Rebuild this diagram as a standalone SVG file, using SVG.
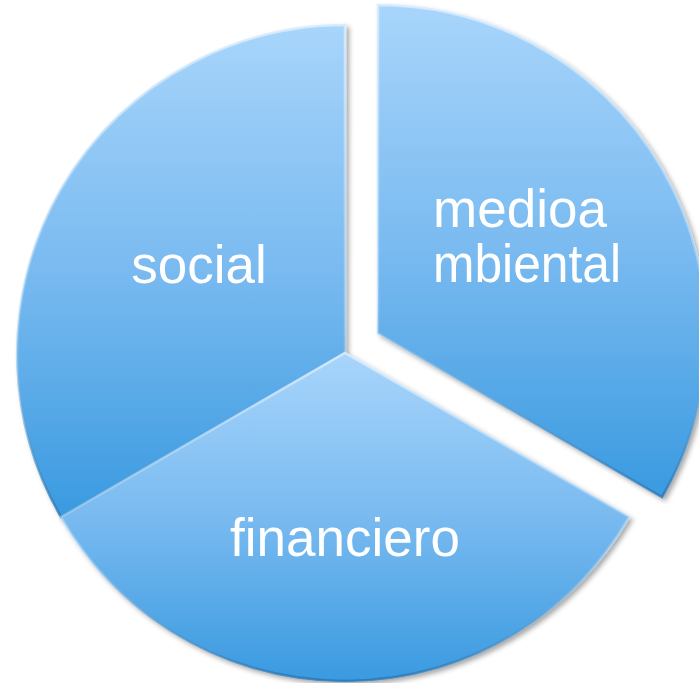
<svg xmlns="http://www.w3.org/2000/svg" width="699" height="683" viewBox="0 0 699 683">
  <defs>
    <linearGradient id="gSlice" x1="0" y1="0" x2="0" y2="1">
      <stop offset="0" stop-color="#a8d5fb"/>
      <stop offset="0.5" stop-color="#79baf0"/>
      <stop offset="1" stop-color="#3a9ae0"/>
    </linearGradient>
    <linearGradient id="gEdge" x1="0" y1="0" x2="0" y2="1">
      <stop offset="0" stop-color="#d8ecfd" stop-opacity="0.9"/>
      <stop offset="0.6" stop-color="#a9d4f7" stop-opacity="0.5"/>
      <stop offset="1" stop-color="#1f6fae" stop-opacity="0.7"/>
    </linearGradient>
    <filter id="shadow" x="-10%" y="-10%" width="120%" height="120%">
      <feDropShadow dx="3" dy="3" stdDeviation="2.5" flood-color="#000" flood-opacity="0.35"/>
    </filter>
  </defs>
  <style>
    .slice { fill: url(#gSlice); stroke: url(#gEdge); stroke-width: 2.5; filter: url(#shadow); }
    .lbl { font-family: "Liberation Sans", Arial, sans-serif; font-size: 53px; fill: #ffffff; text-anchor: middle; }
  </style>
  <rect width="699" height="683" fill="#ffffff"/>
  <g id="connectors"/>
  <g id="social">
    <path class="slice" d="M345,353 L61,517 A328,328 0 0 1 345,25 Z"/>
    <text class="lbl" x="199" y="283">social</text>
  </g>
  <g id="financiero">
    <path class="slice" d="M345,353 L629,517 A328,328 0 0 1 61,517 Z"/>
    <text class="lbl" x="345" y="556">financiero</text>
  </g>
  <g id="medioambiental">
    <path class="slice" d="M378,333 L378,5 A328,328 0 0 1 662,497 Z"/>
    <text class="lbl" x="520" y="227">medioa</text>
    <text class="lbl" x="527" y="282" textLength="188" lengthAdjust="spacingAndGlyphs">mbiental</text>
  </g>
</svg>
